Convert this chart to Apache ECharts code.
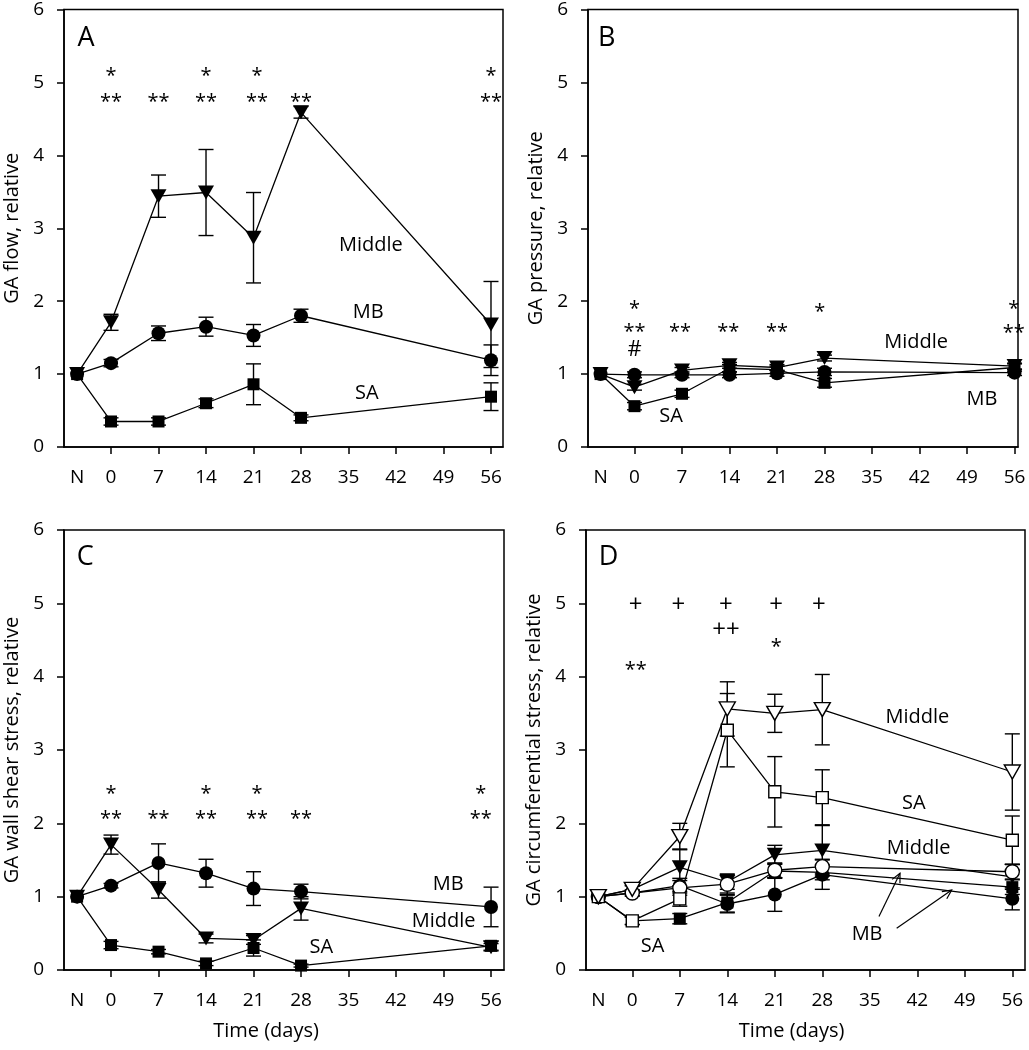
<!DOCTYPE html>
<html>
<head>
<meta charset="utf-8">
<script src="https://cdn.jsdelivr.net/npm/echarts@6/dist/echarts.min.js"></script>
<style>
  html, body { margin: 0; padding: 0; background: #fff; }
  #main { width: 1029px; height: 1050px; }
</style>
</head>
<body>
<div id="main"></div>
<script>
var FONT = 'Open Sans';

// x positions: -5 stands for "N" (normal)
var days = [-5, 0, 7, 14, 21, 28, 56];
var xTickDays = [0, 7, 14, 21, 28, 35, 42, 49, 56];
var xLabelDays = [-5, 0, 7, 14, 21, 28, 35, 42, 49, 56];

// A: GA flow
var flowMiddle = [1.00, 1.71, 3.44, 3.49, 2.87, 4.59, 1.68];
var flowMiddleErr = [0, 0.11, 0.29, 0.59, 0.62, 0.08, 0.59];
var flowMB = [1.00, 1.15, 1.56, 1.65, 1.53, 1.80, 1.19];
var flowMBErr = [0, 0.05, 0.10, 0.13, 0.15, 0.09, 0.21];
var flowSA = [1.00, 0.35, 0.35, 0.60, 0.86, 0.40, 0.69];
var flowSAErr = [0, 0.05, 0.05, 0.06, 0.28, 0.04, 0.19];

// B: GA pressure
var pressMiddle = [1.00, 0.82, 1.05, 1.12, 1.09, 1.22, 1.11];
var pressMiddleErr = [0, 0.04, 0.04, 0.04, 0.04, 0.04, 0.04];
var pressMB = [1.00, 0.99, 0.99, 0.99, 1.01, 1.03, 1.02];
var pressMBErr = [0, 0.04, 0.04, 0.04, 0.04, 0.05, 0.04];
var pressSA = [1.00, 0.56, 0.73, 1.08, 1.06, 0.88, 1.09];
var pressSAErr = [0, 0.05, 0.05, 0.05, 0.05, 0.06, 0.05];

// C: GA wall shear stress
var shearMiddle = [1.00, 1.71, 1.09, 0.43, 0.41, 0.84, 0.31];
var shearMiddleErr = [0, 0.13, 0.11, 0.06, 0.06, 0.16, 0.05];
var shearMB = [1.00, 1.15, 1.46, 1.32, 1.11, 1.07, 0.86];
var shearMBErr = [0, 0.03, 0.26, 0.19, 0.23, 0.10, 0.27];
var shearSA = [1.00, 0.34, 0.25, 0.09, 0.30, 0.06, 0.33];
var shearSAErr = [0, 0.05, 0.03, 0.03, 0.11, 0.02, 0.06];

// D: GA circumferential stress (open and filled symbols)
var circMiddleOpen = [1.00, 1.10, 1.82, 3.56, 3.50, 3.55, 2.70];
var circMiddleOpenErr = [0, 0.05, 0.18, 0.37, 0.26, 0.48, 0.52];
var circSAOpen = [1.00, 0.67, 0.97, 3.27, 2.43, 2.35, 1.77];
var circSAOpenErr = [0, 0.05, 0.10, 0.50, 0.48, 0.38, 0.33];
var circMiddleFilled = [1.00, 1.10, 1.40, 1.20, 1.57, 1.63, 1.27];
var circMiddleFilledErr = [0, 0.05, 0.25, 0.10, 0.13, 0.35, 0.17];
var circMBOpen = [1.00, 1.05, 1.12, 1.17, 1.36, 1.41, 1.34];
var circMBOpenErr = [0, 0.04, 0.10, 0.14, 0.10, 0.10, 0.10];
var circMBFilled = [1.00, 1.05, 1.15, 0.90, 1.03, 1.30, 0.97];
var circMBFilledErr = [0, 0.04, 0.10, 0.12, 0.23, 0.20, 0.15];
var circSAFilled = [1.00, 0.67, 0.70, 0.92, 1.35, 1.33, 1.13];
var circSAFilledErr = [0, 0.05, 0.07, 0.13, 0.10, 0.10, 0.10];

// significance marks [day, y, text]
var marksA = [[0, 5.15, '*'], [14, 5.15, '*'], [21.5, 5.15, '*'], [56, 5.15, '*'],
  [0, 4.79, '**'], [7, 4.79, '**'], [14, 4.79, '**'], [21.5, 4.79, '**'], [28, 4.79, '**'], [56, 4.79, '**']];
var marksB = [[0, 1.96, '*'], [0, 1.64, '**'], [0, 1.33, '#'], [6.7, 1.64, '**'], [13.8, 1.64, '**'],
  [21, 1.64, '**'], [27.3, 1.92, '*'], [55.9, 1.96, '*'], [55.9, 1.63, '**']];
var marksC = [[0, 2.47, '*'], [14, 2.47, '*'], [21.5, 2.47, '*'], [54.5, 2.47, '*'],
  [0, 2.12, '**'], [7, 2.12, '**'], [14, 2.12, '**'], [21.5, 2.12, '**'], [28, 2.12, '**'], [54.5, 2.12, '**']];
var marksD = [[0.5, 4.99, '+'], [6.8, 4.99, '+'], [13.8, 4.99, '+'], [21.2, 4.99, '+'], [27.5, 4.99, '+'],
  [13.8, 4.65, '++'], [21.2, 4.47, '*'], [0.5, 4.15, '**']];

// series names written in the panels
var namesA = [[38.3, 2.76, 'Middle'], [37.9, 1.85, 'MB'], [37.7, 0.74, 'SA']];
var namesB = [[41.5, 1.44, 'Middle'], [51.2, 0.65, 'MB'], [5.4, 0.42, 'SA']];
var namesC = [[49.7, 1.17, 'MB'], [49.0, 0.66, 'Middle'], [31.0, 0.31, 'SA']];
var namesD = [[42.0, 3.44, 'Middle'], [41.5, 2.28, 'SA'], [42.2, 1.66, 'Middle'], [34.6, 0.49, 'MB'], [3.0, 0.32, 'SA']];
var panelLetters = [[-3.7, 5.6, 'A'], [-4.1, 5.6, 'B'], [-3.8, 5.63, 'C'], [-3.5, 5.63, 'D']];
var arrowsD = [[36.35, 0.73, 39.45, 1.32], [38.96, 0.57, 47.07, 1.09]];

var yNames = ['GA flow, relative', 'GA pressure, relative', 'GA wall shear stress, relative', 'GA circumferential stress, relative'];
var grids = [
  { left: 64, top: 7, width: 439, height: 440 },
  { left: 588, top: 7, width: 430, height: 440 },
  { left: 64, top: 530, width: 440, height: 440 },
  { left: 586, top: 530, width: 439, height: 440 }
];
var xRanges = [[-6.93, 57.77], [-6.85, 56.51], [-6.93, 57.91], [-6.82, 57.87]];

var DOWN = { name: 'triangle', size: [16, 14], rotate: 180 };
var CIRCLE = { name: 'circle', size: 14 };
var SQUARE = { name: 'rect', size: 12 };

function lineSeries(idx, vals, sym, filled) {
  return {
    type: 'line', xAxisIndex: idx, yAxisIndex: idx, z: 3,
    data: days.map(function (d, i) { return [d, vals[i]]; }),
    symbol: sym.name, symbolSize: sym.size, symbolRotate: sym.rotate || 0,
    showAllSymbol: true, clip: false,
    lineStyle: { color: '#000', width: 1.3 },
    itemStyle: { color: filled ? '#000' : '#fff', borderColor: '#000', borderWidth: filled ? 0 : 1.4 },
    emphasis: { disabled: true }
  };
}

function errSeries(idx, vals, errs) {
  return {
    type: 'custom', xAxisIndex: idx, yAxisIndex: idx, z: 2, silent: true,
    data: days.map(function (d, i) { return [d, vals[i], errs[i]]; }),
    renderItem: function (params, api) {
      var x = api.value(0), y = api.value(1), e = api.value(2);
      if (!e) return null;
      var hi = api.coord([x, y + e]), lo = api.coord([x, y - e]);
      var w = 7.5;
      var st = { stroke: '#000', lineWidth: 1.4 };
      return { type: 'group', children: [
        { type: 'line', shape: { x1: hi[0], y1: hi[1], x2: lo[0], y2: lo[1] }, style: st },
        { type: 'line', shape: { x1: hi[0] - w, y1: hi[1], x2: hi[0] + w, y2: hi[1] }, style: st },
        { type: 'line', shape: { x1: lo[0] - w, y1: lo[1], x2: lo[0] + w, y2: lo[1] }, style: st }
      ] };
    }
  };
}

function textSeries(idx, items, size) {
  return {
    type: 'custom', xAxisIndex: idx, yAxisIndex: idx, z: 5, silent: true,
    data: items.map(function (t) { return [t[0], t[1]]; }),
    renderItem: function (params, api) {
      var t = items[params.dataIndex];
      var p = api.coord([t[0], t[1]]);
      var fs = size, dy = 0;
      if (t[2].indexOf('*') >= 0) { fs = size + 2; dy = 5; }
      if (t[2].indexOf('+') >= 0) { fs = size + 6; dy = 1; }
      if (t[2] === '#') { fs = size + 4; }
      return { type: 'text', x: p[0], y: p[1] + dy,
        style: { text: t[2], fill: '#000', font: fs + 'px "' + FONT + '"', align: 'center', verticalAlign: 'middle' } };
    }
  };
}

function arrowSeries(idx, items) {
  return {
    type: 'custom', xAxisIndex: idx, yAxisIndex: idx, z: 5, silent: true,
    data: items.map(function (a) { return [a[0], a[1]]; }),
    renderItem: function (params, api) {
      var a = items[params.dataIndex];
      var p0 = api.coord([a[0], a[1]]), p1 = api.coord([a[2], a[3]]);
      var ang = Math.atan2(p1[1] - p0[1], p1[0] - p0[0]);
      var L = 10, sp = 0.45;
      var st = { stroke: '#000', lineWidth: 1.2, fill: null };
      return { type: 'group', children: [
        { type: 'line', shape: { x1: p0[0], y1: p0[1], x2: p1[0], y2: p1[1] }, style: st },
        { type: 'polyline', shape: { points: [
          [p1[0] - L * Math.cos(ang - sp), p1[1] - L * Math.sin(ang - sp)],
          [p1[0], p1[1]],
          [p1[0] - L * Math.cos(ang + sp), p1[1] - L * Math.sin(ang + sp)]
        ] }, style: st }
      ] };
    }
  };
}

var axisLineStyle = { color: '#000', width: 1.5 };
var xAxes = [], yAxes = [];
for (var i = 0; i < 4; i++) {
  xAxes.push({
    gridIndex: i, type: 'value', min: xRanges[i][0], max: xRanges[i][1],
    axisLine: { show: true, onZero: false, lineStyle: axisLineStyle },
    axisTick: { show: true, customValues: xTickDays, length: 7, lineStyle: axisLineStyle },
    axisLabel: {
      customValues: xLabelDays, margin: 21, fontSize: 19, color: '#000', fontFamily: FONT,
      formatter: function (v) { return v === -5 ? 'N' : String(v); }
    },
    splitLine: { show: false },
    name: i >= 2 ? 'Time (days)' : '', nameLocation: 'middle', nameGap: 51,
    nameTextStyle: { fontSize: 20, color: '#000', fontFamily: FONT, padding: i === 2 ? [0, 36, 0, 0] : [0, 28, 0, 0] }
  });
  yAxes.push({
    gridIndex: i, type: 'value', min: 0, max: 6, interval: 1,
    axisLine: { show: true, onZero: false, lineStyle: axisLineStyle },
    axisTick: { show: true, length: 7, lineStyle: axisLineStyle },
    axisLabel: { margin: 20, fontSize: 19, color: '#000', fontFamily: FONT },
    splitLine: { show: false },
    name: yNames[i], nameLocation: 'middle', nameGap: 42,
    nameTextStyle: { fontSize: 20, color: '#000', fontFamily: FONT }
  });
}

var series = [
  // A
  errSeries(0, flowMiddle, flowMiddleErr), errSeries(0, flowMB, flowMBErr), errSeries(0, flowSA, flowSAErr),
  lineSeries(0, flowMiddle, DOWN, true), lineSeries(0, flowMB, CIRCLE, true), lineSeries(0, flowSA, SQUARE, true),
  // B
  errSeries(1, pressMiddle, pressMiddleErr), errSeries(1, pressMB, pressMBErr), errSeries(1, pressSA, pressSAErr),
  lineSeries(1, pressSA, SQUARE, true), lineSeries(1, pressMiddle, DOWN, true), lineSeries(1, pressMB, CIRCLE, true),
  // C
  errSeries(2, shearMiddle, shearMiddleErr), errSeries(2, shearMB, shearMBErr), errSeries(2, shearSA, shearSAErr),
  lineSeries(2, shearMiddle, DOWN, true), lineSeries(2, shearMB, CIRCLE, true), lineSeries(2, shearSA, SQUARE, true),
  // D
  errSeries(3, circMiddleOpen, circMiddleOpenErr), errSeries(3, circSAOpen, circSAOpenErr),
  errSeries(3, circMiddleFilled, circMiddleFilledErr), errSeries(3, circMBOpen, circMBOpenErr),
  errSeries(3, circMBFilled, circMBFilledErr), errSeries(3, circSAFilled, circSAFilledErr),
  lineSeries(3, circSAFilled, SQUARE, true), lineSeries(3, circMBFilled, CIRCLE, true),
  lineSeries(3, circMiddleFilled, DOWN, true), lineSeries(3, circMBOpen, CIRCLE, false),
  lineSeries(3, circSAOpen, SQUARE, false), lineSeries(3, circMiddleOpen, DOWN, false),
  // marks, names, letters
  textSeries(0, marksA, 18), textSeries(1, marksB, 18), textSeries(2, marksC, 18), textSeries(3, marksD, 18),
  textSeries(0, namesA, 20), textSeries(1, namesB, 20), textSeries(2, namesC, 20), textSeries(3, namesD, 20),
  textSeries(0, [panelLetters[0]], 27), textSeries(1, [panelLetters[1]], 27),
  textSeries(2, [panelLetters[2]], 27), textSeries(3, [panelLetters[3]], 27),
  arrowSeries(3, arrowsD)
];

var myChart = echarts.init(document.getElementById('main'));
myChart.setOption({
  animation: false,
  backgroundColor: '#fff',
  textStyle: { fontFamily: FONT },
  grid: grids.map(function (g) {
    return { left: g.left, top: g.top, width: g.width, height: g.height, show: true, borderColor: '#000', borderWidth: 1.5, containLabel: false };
  }),
  xAxis: xAxes,
  yAxis: yAxes,
  series: series
});
</script>
</body>
</html>
